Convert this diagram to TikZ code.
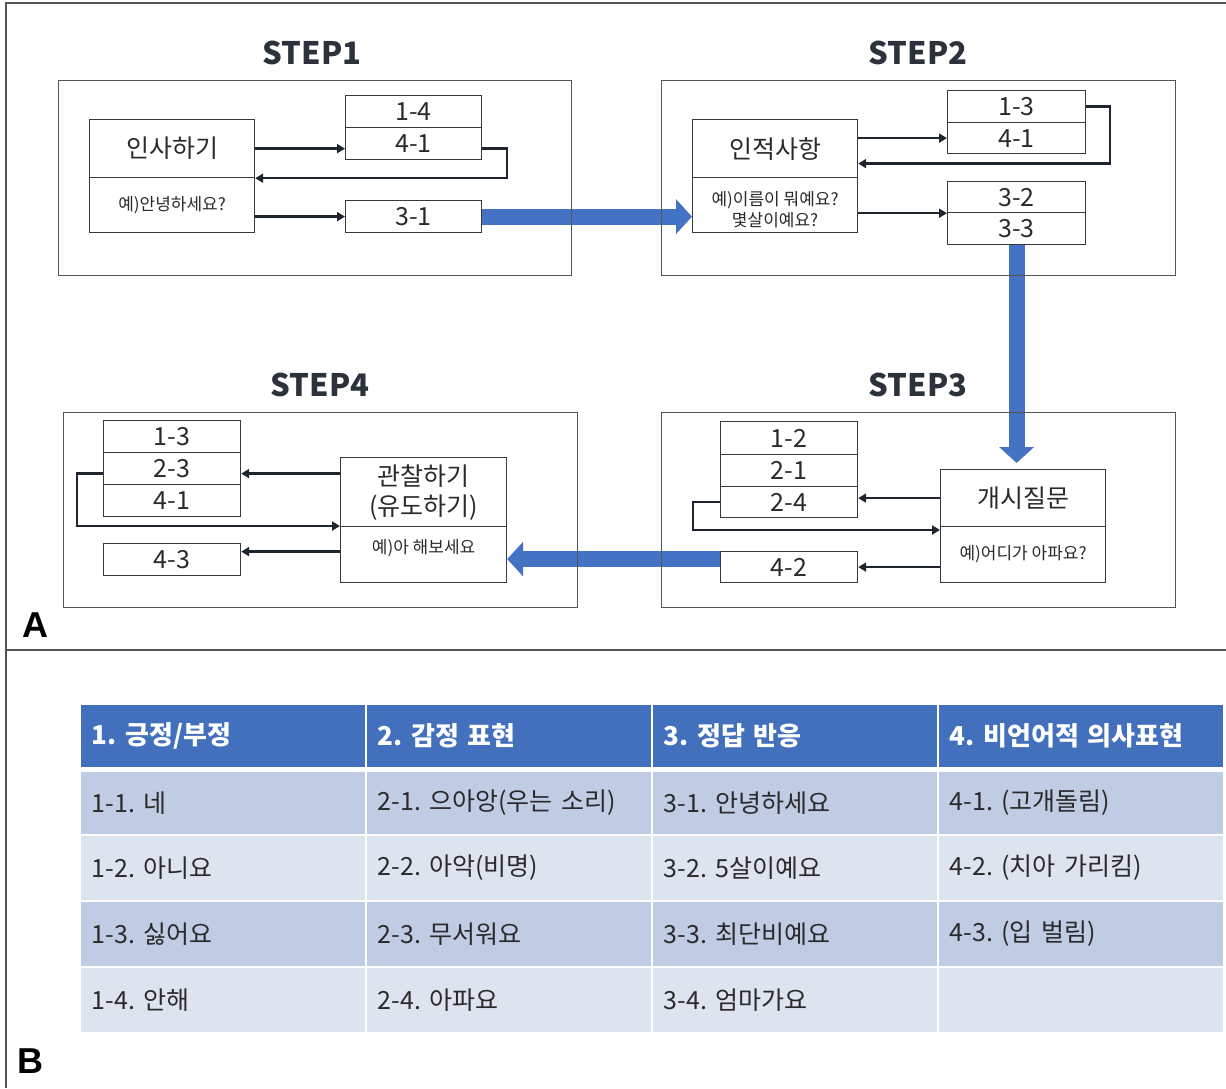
\documentclass[tikz,border=0pt]{standalone}
\usepackage{fontspec}
\setmainfont{Noto Sans CJK KR}
\newfontfamily\labfont{Liberation Sans}
\usetikzlibrary{arrows.meta,calc,backgrounds}
\definecolor{frm}{HTML}{555555}
\definecolor{bx}{HTML}{3A3A3A}
\definecolor{txt}{HTML}{2A2A2A}
\definecolor{ttl}{HTML}{2B323C}
\definecolor{cn}{HTML}{1E252E}
\definecolor{bl}{HTML}{4472C4}
\definecolor{hdr}{HTML}{4270BD}
\definecolor{rowA}{HTML}{C0CBE4}
\definecolor{rowB}{HTML}{DEE3F0}
\tikzset{
  frame/.style={draw=frm, line width=1.3pt},
  cell/.style={draw=bx, line width=1.2pt, inner sep=0pt, anchor=north west, text=txt,
    font=\fontsize{25pt}{30pt}\selectfont},
  small/.style={font=\fontsize{17pt}{21pt}\selectfont, text=txt},
  title/.style={font=\bfseries\fontsize{31pt}{34pt}\selectfont, text=ttl},
  conn/.style={draw=cn, line width=2.4pt, -{Triangle[length=8pt,width=9pt]}},
  barrow/.style={draw=bl, line width=16pt, -{Triangle[length=16pt,width=34pt]}},
  lab/.style={font=\labfont\bfseries\fontsize{36pt}{40pt}\selectfont, text=black},
  tcell/.style={anchor=north west, draw=white, line width=1.5pt, inner xsep=12pt, inner ysep=0pt,
    text width=262pt, align=left, text=txt, font=\fontsize{25pt}{29pt}\selectfont},
  thead/.style={tcell, fill=hdr, text=white, minimum height=64pt, font=\bfseries\fontsize{26pt}{30pt}\selectfont},
}
\begin{document}
\frenchspacing
\begin{tikzpicture}[x=1pt,y=-1pt]
\useasboundingbox (0,0) rectangle (1226,1088);
% panel borders
\draw[frame] (6,1088) -- (6,3) -- (1226,3);
\draw[frame] (6,650) -- (1226,650);
% step frames
\node[frame, anchor=north west, minimum width=513pt, minimum height=195pt, inner sep=0pt] (f1) at (58,80) {};
\node[frame, anchor=north west, minimum width=514pt, minimum height=195pt, inner sep=0pt] (f2) at (661,80) {};
\node[frame, anchor=north west, minimum width=514pt, minimum height=195pt, inner sep=0pt] (f3) at (661,412) {};
\node[frame, anchor=north west, minimum width=514pt, minimum height=195pt, inner sep=0pt] (f4) at (63,412) {};
% titles
\node[title] (t1) at (312,53) {STEP1};
\node[title] (t2) at (918,53) {STEP2};
\node[title] (t3) at (918,385) {STEP3};
\node[title] (t4) at (320,385) {STEP4};
% STEP1
\node[cell, minimum width=165pt, minimum height=58pt] (s1top) at (89,119) {인사하기};
\node[cell, small, minimum width=165pt, minimum height=55pt] (s1bot) at (89,177) {예)안녕하세요?};
\node[cell, minimum width=136pt, minimum height=32pt] (s1a) at (345,95) {1-4};
\node[cell, minimum width=136pt, minimum height=32pt] (s1b) at (345,127) {4-1};
\node[cell, minimum width=136pt, minimum height=32pt] (s1c) at (345,200) {3-1};
% STEP2
\node[cell, minimum width=165pt, minimum height=58pt] (s2top) at (692,119) {인적사항};
\node[cell, minimum width=165pt, minimum height=55pt,
  label={[small, align=center, yshift=-5pt]center:예)이름이 뭐예요?\\몇살이예요?}] (s2bot) at (692,177) {};
\node[cell, minimum width=138pt, minimum height=32pt] (s2a) at (947,90) {1-3};
\node[cell, minimum width=138pt, minimum height=31pt] (s2b) at (947,122) {4-1};
\node[cell, minimum width=138pt, minimum height=31pt] (s2c) at (947,181) {3-2};
\node[cell, minimum width=138pt, minimum height=32pt] (s2d) at (947,212) {3-3};
% STEP3
\node[cell, minimum width=137pt, minimum height=33pt] (s3a) at (720,421) {1-2};
\node[cell, minimum width=137pt, minimum height=32pt] (s3b) at (720,454) {2-1};
\node[cell, minimum width=137pt, minimum height=31pt] (s3c) at (720,486) {2-4};
\node[cell, minimum width=137pt, minimum height=31pt] (s3d) at (720,551) {4-2};
\node[cell, minimum width=165pt, minimum height=57pt] (s3top) at (940,469) {개시질문};
\node[cell, small, minimum width=165pt, minimum height=56pt] (s3bot) at (940,526) {예)어디가 아파요?};
% STEP4
\node[cell, minimum width=137pt, minimum height=32pt] (s4a) at (103,420) {1-3};
\node[cell, minimum width=137pt, minimum height=32pt] (s4b) at (103,452) {2-3};
\node[cell, minimum width=137pt, minimum height=32pt] (s4c) at (103,484) {4-1};
\node[cell, minimum width=137pt, minimum height=32pt] (s4d) at (103,543) {4-3};
\node[cell, align=center, minimum width=166pt, minimum height=69pt] (s4top) at (340,457) {관찰하기\\(유도하기)};
\node[cell, minimum width=166pt, minimum height=56pt,
  label={[small, yshift=6pt]center:예)아 해보세요}] (s4bot) at (340,526) {};
% connectors STEP1
\draw[conn] (s1top.east) -- (s1top.east -| s1b.west);
\draw[conn] (s1b.east |- s1top.east) -- ++(25,0) |- (s1top.south east);
\draw[conn] (s1c.west -| s1bot.east) -- (s1c.west);
% connectors STEP2
\draw[conn] (s2b.west -| s2top.east) -- (s2b.west);
\draw[conn] (s2a.east) -- ++(24,0) |- ($(s2top.east)+(0,15)$);
\draw[conn] (s2c.south west -| s2bot.east) -- (s2c.south west);
% connectors STEP3
\draw[conn] (s3top.west) -- (s3top.west -| s3c.east);
\draw[conn] (s3c.west) -- ++(-27,0) |- ($(s3bot.north west)+(0,4)$);
\draw[conn] (s3d.east -| s3bot.west) -- (s3d.east);
% connectors STEP4
\draw[conn] ($(s4b.east -| s4top.west)+(0,5)$) -- ($(s4b.east)+(0,5)$);
\draw[conn] ($(s4b.west)+(0,5)$) -- ++(-26,0) |- (s4bot.north west);
\draw[conn] ($(s4d.east -| s4bot.west)+(0,-8)$) -- ($(s4d.east)+(0,-8)$);
% blue arrows
\begin{pgfonlayer}{background}
\draw[barrow] (s1c.east) -- (s1c.east -| s2bot.west);
\draw[barrow] (s2d.south) -- ($(s2d.south |- s3top.north)+(0,-6)$);
\draw[barrow] ($(s3d.west)+(0,-8)$) -- ($(s3d.west -| s4bot.east)+(0,-8)$);
\end{pgfonlayer}
% panel labels
\node[lab] (la) at (35,625) {A};
\node[lab] (lb) at (30,1061) {B};
% table header
\node[thead] (h1) at (79,703) {1. 긍정/부정};
\node[thead] (h2) at (365,703) {2. 감정 표현};
\node[thead] (h3) at (651,703) {3. 정답 반응};
\node[thead] (h4) at (937,703) {4. 비언어적 의사표현};
% rows
\node[tcell, fill=rowA, minimum height=64pt] (r11) at (79,770) {1-1. 네};
\node[tcell, fill=rowA, minimum height=64pt] (r12) at (365,770) {2-1. 으아앙(우는 소리)};
\node[tcell, fill=rowA, minimum height=64pt] (r13) at (651,770) {3-1. 안녕하세요};
\node[tcell, fill=rowA, minimum height=64pt] (r14) at (937,770) {4-1. (고개돌림)};
\node[tcell, fill=rowB, minimum height=66pt] (r21) at (79,834) {1-2. 아니요};
\node[tcell, fill=rowB, minimum height=66pt] (r22) at (365,834) {2-2. 아악(비명)};
\node[tcell, fill=rowB, minimum height=66pt] (r23) at (651,834) {3-2. 5살이예요};
\node[tcell, fill=rowB, minimum height=66pt] (r24) at (937,834) {4-2. (치아 가리킴)};
\node[tcell, fill=rowA, minimum height=66pt] (r31) at (79,900) {1-3. 싫어요};
\node[tcell, fill=rowA, minimum height=66pt] (r32) at (365,900) {2-3. 무서워요};
\node[tcell, fill=rowA, minimum height=66pt] (r33) at (651,900) {3-3. 최단비예요};
\node[tcell, fill=rowA, minimum height=66pt] (r34) at (937,900) {4-3. (입 벌림)};
\node[tcell, fill=rowB, minimum height=66pt] (r41) at (79,966) {1-4. 안해};
\node[tcell, fill=rowB, minimum height=66pt] (r42) at (365,966) {2-4. 아파요};
\node[tcell, fill=rowB, minimum height=66pt] (r43) at (651,966) {3-4. 엄마가요};
\node[tcell, fill=rowB, minimum height=66pt] (r44) at (937,966) {};
\end{tikzpicture}
\end{document}
